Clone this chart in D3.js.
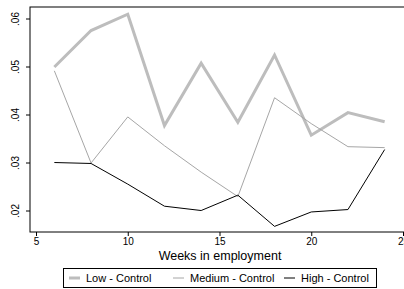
<!DOCTYPE html>
<html>
<head>
<meta charset="utf-8">
<script src="https://cdn.jsdelivr.net/npm/d3@7"></script>
<style>
  body { margin: 0; background: #fff; }
  svg { font-family: "Liberation Sans", Arial, sans-serif; }
</style>
</head>
<body>
<div id="chart"></div>
<script>
const weeks = [6, 8, 10, 12, 14, 16, 18, 20, 22, 24];
const lowControl = [0.0500, 0.0576, 0.0610, 0.0378, 0.0508, 0.0385, 0.0525, 0.0358, 0.0405, 0.0386];
const mediumControl = [0.0492, 0.0300, 0.0396, 0.0336, 0.0281, 0.0230, 0.0436, 0.0382, 0.0334, 0.0332];
const highControl = [0.0301, 0.0299, 0.0256, 0.0210, 0.0201, 0.0233, 0.0168, 0.0198, 0.0203, 0.0328];
const xTicks = [5, 10, 15, 20, 25];
const yTicks = [0.02, 0.03, 0.04, 0.05, 0.06];
const seriesNames = ["Low - Control", "Medium - Control", "High - Control"];

const series = [
  { name: seriesNames[0], values: lowControl, color: "#bdbdbd", width: 3 },
  { name: seriesNames[1], values: mediumControl, color: "#a6a6a6", width: 1 },
  { name: seriesNames[2], values: highControl, color: "#000000", width: 1 }
];

const width = 404, height = 289;
const plot = { left: 30, top: 7, right: 410, bottom: 232 };

const svg = d3.select("#chart").append("svg")
  .attr("width", width)
  .attr("height", height);

// the plot region runs past the right edge of the picture, like the original
const x = d3.scaleLinear().domain([5, 25]).range([36, 403]);
const y = d3.scaleLinear().domain([0.02, 0.06]).range([211, 19]);

// plot frame
svg.append("rect")
  .attr("x", plot.left).attr("y", plot.top)
  .attr("width", plot.right - plot.left).attr("height", plot.bottom - plot.top)
  .attr("fill", "none").attr("stroke", "#000").attr("stroke-width", 1);

// axes
const xAxis = svg.append("g")
  .attr("transform", `translate(0,${plot.bottom})`)
  .call(d3.axisBottom(x).tickValues(xTicks).tickSize(4).tickPadding(2).tickFormat(d3.format("d")));
xAxis.select(".domain").remove();
xAxis.selectAll("text").attr("font-size", 10).attr("fill", "#000").attr("font-family", "Liberation Sans, Arial, sans-serif");

const yAxis = svg.append("g")
  .attr("transform", `translate(${plot.left},0)`)
  .call(d3.axisLeft(y).tickValues(yTicks).tickSize(4).tickFormat(d => d3.format(".2f")(d).replace(/^0/, "")));
yAxis.select(".domain").remove();
// rotated tick labels (Stata style)
yAxis.selectAll(".tick").attr("transform", null);
yAxis.selectAll(".tick line").attr("y1", d => y(d)).attr("y2", d => y(d));
yAxis.selectAll(".tick text")
  .attr("font-size", 10).attr("fill", "#000")
  .attr("font-family", "Liberation Sans, Arial, sans-serif")
  .attr("text-anchor", "middle")
  .attr("x", 0).attr("y", 0).attr("dy", 0)
  .attr("transform", d => `translate(-11,${y(d)}) rotate(-90)`);

// lines
const line = d3.line()
  .x((d, i) => x(weeks[i]))
  .y(d => y(d));

series.forEach(s => {
  svg.append("path")
    .datum(s.values)
    .attr("d", line)
    .attr("fill", "none")
    .attr("stroke", s.color)
    .attr("stroke-width", s.width)
    .attr("stroke-linejoin", "miter");
});

// x axis title
svg.append("text")
  .attr("x", 220).attr("y", 260)
  .attr("text-anchor", "middle")
  .attr("font-size", 12.5)
  .text("Weeks in employment");

// legend
const legend = svg.append("g");
legend.append("rect")
  .attr("x", 63.5).attr("y", 268.5)
  .attr("width", 313).attr("height", 19)
  .attr("fill", "#fff").attr("stroke", "#000");

const legendX = [69, 173, 284];
series.forEach((s, i) => {
  legend.append("line")
    .attr("x1", legendX[i]).attr("x2", legendX[i] + 11)
    .attr("y1", 278).attr("y2", 278)
    .attr("stroke", s.color).attr("stroke-width", s.width);
  legend.append("text")
    .attr("x", legendX[i] + 17).attr("y", 282)
    .attr("font-size", 11)
    .text(s.name);
});
</script>
</body>
</html>
